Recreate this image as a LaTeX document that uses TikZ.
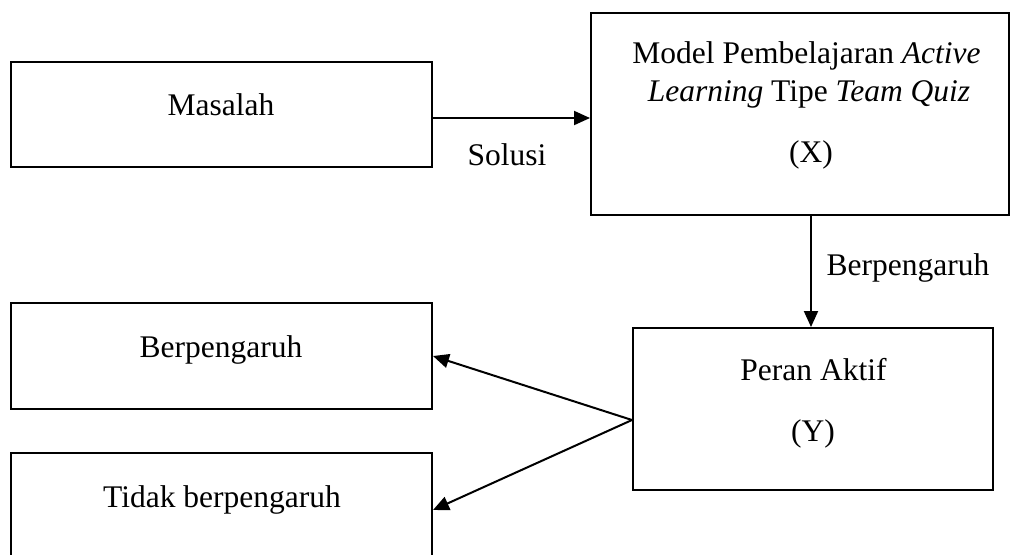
\documentclass[tikz,border=0pt]{standalone}
\usepackage{fontspec}
\setmainfont{Liberation Serif}
\usetikzlibrary{arrows.meta,fit}
\begin{document}
\begin{tikzpicture}[x=0.5pt,y=-0.5pt,
  box/.style={draw,line width=1pt,inner sep=0pt,rectangle},
  txt/.style={inner sep=0pt,anchor=base,font=\fontsize{15.75}{19}\selectfont},
  arr/.style={line width=1pt,-{Triangle[length=8pt,width=7pt]}}]
\useasboundingbox (0,0) rectangle (1011,554);
\clip (0,0) rectangle (1011,554);
\fill[white] (0,0) rectangle (1011,554);
% boxes
\node[box,fit={(10.7,62)(432,167)}] (masalah) {};
\node[box,fit={(591,13)(1009,215)}] (model) {};
\node[box,fit={(10.7,303)(432,409)}] (berp) {};
\node[box,fit={(10.7,453)(432,600)}] (tidak) {};
\node[box,fit={(633,328)(993,490)}] (peran) {};
% texts
\node[txt] (tmasalah) at (221,115) {Masalah};
\node[txt] (tsolusi) at (507,165) {Solusi};
\node[txt] (tmodela) at (806.5,63) {Model Pembelajaran \textit{Active}};
\node[txt] (tmodelb) at (809,101) {\textit{Learning} Tipe \textit{Team Quiz}};
\node[txt] (tx) at (811,162) {(X)};
\node[txt] (tlabel) at (908,275) {Berpengaruh};
\node[txt] (tberp) at (221,357) {Berpengaruh};
\node[txt] (tperan) at (813.5,380) {Peran Aktif};
\node[txt] (ty) at (813,441) {(Y)};
\node[txt] (ttidak) at (222,507) {Tidak berpengaruh};
% connector coordinates
\coordinate (ya) at (0,118);
\coordinate (xv) at (811,0);
\coordinate (ys) at (0,420);
\coordinate (yt) at (0,510);
% connectors
\draw[arr] (masalah.east |- ya) -- (model.west |- ya);
\draw[arr] (model.south -| xv) -- (peran.north -| xv);
\draw[arr] (peran.west |- ys) -- (berp.east);
\draw[arr] (peran.west |- ys) -- (tidak.east |- yt);
\end{tikzpicture}
\end{document}
